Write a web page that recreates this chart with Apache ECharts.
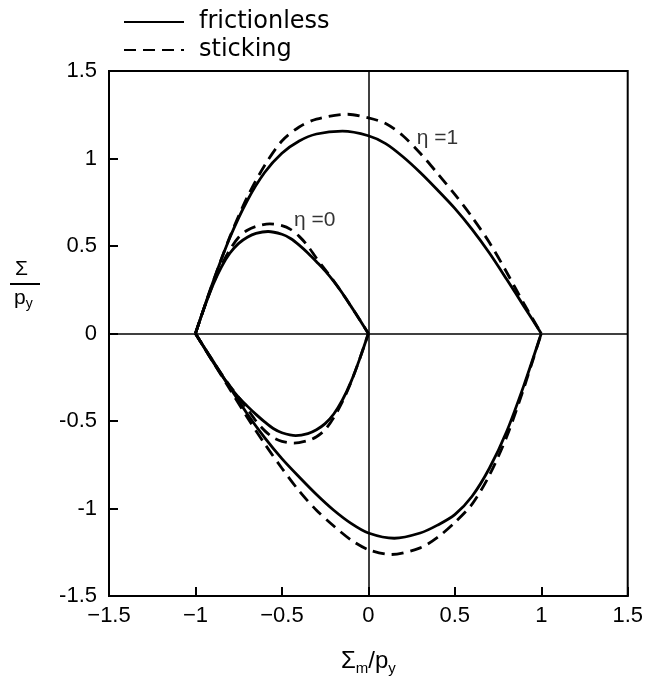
<!DOCTYPE html>
<html>
<head>
<meta charset="utf-8">
<script src="https://cdn.jsdelivr.net/npm/echarts@6/dist/echarts.min.js"></script>
<style>
  html, body { margin: 0; padding: 0; background: #fff; }
  #chart { width: 646px; height: 686px; }
</style>
</head>
<body>
<div id="chart"></div>
<script>
// Axis ticks (Σm/py horizontally, Σ/py vertically)
const xTicks = [-1.5, -1, -0.5, 0, 0.5, 1, 1.5];
const yTicks = [-1.5, -1, -0.5, 0, 0.5, 1, 1.5];

// η = 1, frictionless: upper and lower branches [Σm/py, Σ/py]
const frictionlessEta1Upper = [
  [-1, 0], [-0.9, 0.29], [-0.8, 0.55], [-0.7, 0.76], [-0.6, 0.92], [-0.5, 1.03],
  [-0.4, 1.1], [-0.3, 1.14], [-0.15, 1.156], [0, 1.13], [0.1, 1.085],
  [0.2, 1.01], [0.3, 0.92], [0.4, 0.82], [0.5, 0.715], [0.6, 0.595], [0.7, 0.46],
  [0.8, 0.31], [0.9, 0.155], [1, 0]
];
const frictionlessEta1Lower = [
  [-1, 0], [-0.9, -0.155], [-0.8, -0.31], [-0.7, -0.46], [-0.6, -0.595], [-0.5, -0.715],
  [-0.4, -0.82], [-0.3, -0.92], [-0.2, -1.01], [-0.1, -1.085], [0, -1.14],
  [0.15, -1.17], [0.3, -1.14], [0.4, -1.095], [0.5, -1.035], [0.6, -0.93],
  [0.7, -0.77], [0.8, -0.56], [0.9, -0.295], [1, 0]
];

// η = 1, sticking
const stickingEta1Upper = [
  [-1, 0], [-0.9, 0.29], [-0.8, 0.555], [-0.7, 0.78], [-0.6, 0.96], [-0.5, 1.1],
  [-0.4, 1.18], [-0.3, 1.225], [-0.12, 1.253], [0, 1.232], [0.1, 1.2],
  [0.2, 1.13], [0.3, 1.03], [0.4, 0.915], [0.5, 0.795], [0.6, 0.665], [0.7, 0.52],
  [0.8, 0.35], [0.9, 0.17], [1, 0]
];
const stickingEta1Lower = [
  [-1, 0], [-0.9, -0.16], [-0.8, -0.32], [-0.7, -0.48], [-0.6, -0.63], [-0.5, -0.77],
  [-0.4, -0.9], [-0.3, -1.01], [-0.2, -1.1], [-0.1, -1.18], [0, -1.235],
  [0.13, -1.263], [0.3, -1.225], [0.4, -1.165], [0.5, -1.08], [0.6, -0.975],
  [0.7, -0.81], [0.8, -0.59], [0.9, -0.31], [1, 0]
];

// η = 0, frictionless
const frictionlessEta0Upper = [
  [-1, 0], [-0.95, 0.145], [-0.9, 0.275], [-0.85, 0.38], [-0.8, 0.46], [-0.75, 0.515],
  [-0.7, 0.55], [-0.65, 0.572], [-0.58, 0.583], [-0.5, 0.567], [-0.45, 0.543],
  [-0.4, 0.505], [-0.35, 0.46], [-0.3, 0.41], [-0.25, 0.358], [-0.2, 0.298], [-0.15, 0.23],
  [-0.1, 0.155], [-0.05, 0.078], [0, 0]
];
const frictionlessEta0Lower = [
  [-1, 0], [-0.95, -0.08], [-0.9, -0.16], [-0.85, -0.235], [-0.8, -0.305], [-0.75, -0.365],
  [-0.7, -0.415], [-0.65, -0.462], [-0.6, -0.505], [-0.55, -0.543], [-0.5, -0.567],
  [-0.42, -0.583], [-0.35, -0.572], [-0.3, -0.55], [-0.25, -0.515],
  [-0.2, -0.46], [-0.15, -0.38], [-0.1, -0.275], [-0.05, -0.145], [0, 0]
];

// η = 0, sticking
const stickingEta0Upper = [
  [-1, 0], [-0.95, 0.145], [-0.9, 0.278], [-0.85, 0.39], [-0.8, 0.48], [-0.75, 0.55],
  [-0.7, 0.59], [-0.65, 0.612], [-0.57, 0.626], [-0.5, 0.616],
  [-0.45, 0.595], [-0.4, 0.555], [-0.35, 0.5], [-0.3, 0.43], [-0.25, 0.365],
  [-0.2, 0.3], [-0.15, 0.23], [-0.1, 0.155], [-0.05, 0.078], [0, 0]
];
const stickingEta0Lower = [
  [-1, 0], [-0.95, -0.078], [-0.9, -0.155], [-0.85, -0.23], [-0.8, -0.3], [-0.75, -0.365],
  [-0.7, -0.43], [-0.65, -0.5], [-0.6, -0.555], [-0.55, -0.595], [-0.5, -0.616],
  [-0.43, -0.626], [-0.35, -0.612], [-0.3, -0.59], [-0.25, -0.55],
  [-0.2, -0.48], [-0.15, -0.39], [-0.1, -0.278], [-0.05, -0.145], [0, 0]
];

// Curve annotations
const curveLabels = [
  { value: [0.28, 1.115], text: 'η =1' },
  { value: [-0.43, 0.65], text: 'η =0' }
];

const FONT = 'Liberation Sans, Arial, sans-serif';
const BLACK = '#000';

function curve(name, data, dashed) {
  return {
    name: name,
    type: 'line',
    data: data,
    smooth: 0.3,
    showSymbol: false,
    symbol: 'none',
    silent: true,
    lineStyle: { color: BLACK, width: 2.8, type: dashed ? [12, 7] : 'solid' },
    itemStyle: { color: BLACK },
    z: 3
  };
}

const fmtX = v => (v < 0 ? '\u2212' + Math.abs(v) : String(v));
const fmtY = v => String(v);

const series = [
  curve('frictionless', frictionlessEta1Upper, false),
  curve('frictionless', frictionlessEta1Lower, false),
  curve('frictionless', frictionlessEta0Upper, false),
  curve('frictionless', frictionlessEta0Lower, false),
  curve('sticking', stickingEta1Upper, true),
  curve('sticking', stickingEta1Lower, true),
  curve('sticking', stickingEta0Upper, true),
  curve('sticking', stickingEta0Lower, true),
  {
    name: 'labels',
    type: 'scatter',
    symbolSize: 0,
    silent: true,
    data: curveLabels.map(d => ({ value: d.value, label: { formatter: d.text } })),
    label: {
      show: true,
      position: 'right',
      distance: 0,
      color: BLACK,
      fontFamily: FONT,
      fontSize: 21
    },
    z: 4
  }
];

// Reference lines through the origin
series[0].markLine = {
  silent: true,
  symbol: ['none', 'none'],
  label: { show: false },
  lineStyle: { color: BLACK, width: 1.5, type: 'solid' },
  data: [{ xAxis: 0 }, { yAxis: 0 }]
};

const chart = echarts.init(document.getElementById('chart'), null, { renderer: 'canvas' });
chart.setOption({
  animation: false,
  backgroundColor: '#fff',
  grid: {
    left: 109, right: 15, top: 71, bottom: 90,
    show: true, borderColor: BLACK, borderWidth: 2, backgroundColor: 'transparent'
  },
  legend: {
    data: ['frictionless', 'sticking'],
    orient: 'vertical',
    left: 118,
    top: 5,
    itemWidth: 60,
    itemHeight: 14,
    itemGap: 4,
    selectedMode: false,
    itemStyle: { color: 'transparent', borderWidth: 0, opacity: 0 },
    textStyle: { color: BLACK, fontFamily: 'DejaVu Sans, sans-serif', fontSize: 24, padding: [0, 0, 0, 10] }
  },
  xAxis: {
    type: 'value',
    min: -1.5, max: 1.5, interval: 0.5,
    axisLine: { show: true, onZero: false, lineStyle: { color: BLACK, width: 2 } },
    axisTick: { show: true, inside: true, length: 9, lineStyle: { color: BLACK, width: 2 } },
    splitLine: { show: false },
    axisLabel: {
      color: BLACK, fontFamily: FONT, fontSize: 22, margin: 9,
      formatter: v => (xTicks.includes(v) ? fmtX(v) : '')
    },
    name: '{a|Σ}{s|m}{a|/}{p|p}{s|y}',
    nameLocation: 'middle',
    nameGap: 50,
    nameTextStyle: {
      rich: {
        a: { fontFamily: FONT, fontSize: 24, color: BLACK, lineHeight: 30 },
        p: { fontFamily: FONT, fontSize: 24, color: BLACK, lineHeight: 30 },
        s: { fontFamily: FONT, fontSize: 15, color: BLACK, lineHeight: 12, verticalAlign: 'bottom' }
      }
    }
  },
  yAxis: {
    type: 'value',
    min: -1.5, max: 1.5, interval: 0.5,
    axisLine: { show: true, onZero: false, lineStyle: { color: BLACK, width: 2 } },
    axisTick: { show: true, inside: true, length: 9, lineStyle: { color: BLACK, width: 2 } },
    splitLine: { show: false },
    axisLabel: {
      color: BLACK, fontFamily: FONT, fontSize: 22, margin: 12,
      formatter: v => (yTicks.includes(v) ? fmtY(v) : '')
    }
  },
  graphic: [
    {
      type: 'text', left: 15, top: 259, silent: true,
      style: { text: 'Σ', fill: BLACK, font: '21px ' + FONT }
    },
    {
      type: 'line', silent: true,
      shape: { x1: 10, y1: 284, x2: 40, y2: 284 },
      style: { stroke: BLACK, lineWidth: 2 }
    },
    {
      type: 'text', left: 14, top: 288, silent: true,
      style: {
        text: '{p|p}{s|y}',
        rich: {
          p: { fontFamily: FONT, fontSize: 21, fill: BLACK, lineHeight: 26 },
          s: { fontFamily: FONT, fontSize: 14, fill: BLACK, lineHeight: 10, verticalAlign: 'bottom' }
        }
      }
    }
  ],
  series: series
});
</script>
</body>
</html>
